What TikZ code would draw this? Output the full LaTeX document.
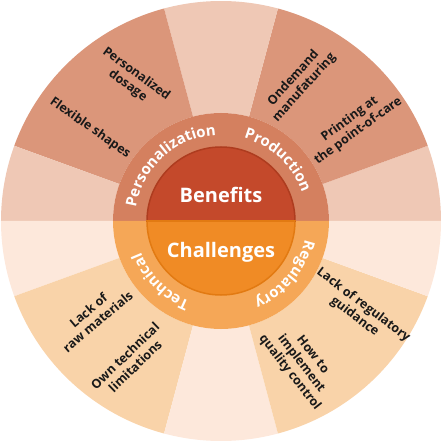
\documentclass[tikz,border=0pt]{standalone}
\usepackage{fontspec}
\setmainfont{Open Sans}
\usepackage{tikz}
\usetikzlibrary{decorations.text}

\definecolor{lighttop}{HTML}{EFC8B5}
\definecolor{wedgetop}{HTML}{DB967A}
\definecolor{ringtop}{HTML}{D4805F}
\definecolor{hubtop}{HTML}{C4492B}
\definecolor{edgetop}{HTML}{AE3C1F}
\definecolor{lightbot}{HTML}{FDE8DB}
\definecolor{wedgebot}{HTML}{F9D3A9}
\definecolor{ringbot}{HTML}{F5A757}
\definecolor{hubbot}{HTML}{F08B25}
\definecolor{edgebot}{HTML}{E27A12}

\newcommand{\ringfont}{\bfseries\fontsize{15}{17}\selectfont}

\begin{document}
\begin{tikzpicture}[
x=1pt, y=1pt,
item/.style={
font=\bfseries\fontsize{12.5}{14.5}\selectfont,
align=center,
text=black!90,
inner sep=0pt
},
hub/.style={
font=\bfseries\fontsize{20}{24}\selectfont,
text=white,
anchor=base
},
ringlabel/.style={
decorate,
decoration={text along path, text align=center, text color=white, text={|\ringfont|#1}}
}
]

\useasboundingbox (-221,-221) rectangle (221,221);

% Outer ring
\foreach \a/\b/\c in {0/20/lighttop, 20/75/wedgetop, 75/105/lighttop, 105/160/wedgetop, 160/180/lighttop,
180/200/lightbot, 200/255/wedgebot, 255/285/lightbot, 285/340/wedgebot, 340/360/lightbot}
\fill[\c] (\a:108) arc[start angle=\a, end angle=\b, radius=108] -- (\b:220)
arc[start angle=\b, end angle=\a, radius=220] -- cycle;

% Middle ring
\fill[ringtop] (108,0) arc[start angle=0, end angle=180, radius=108] -- cycle;
\fill[ringbot] (-108,0) arc[start angle=180, end angle=360, radius=108] -- cycle;

% Hub
\filldraw[hubtop, draw=edgetop, line width=1.5] (74,0) arc[start angle=0, end angle=180, radius=74] -- cycle;
\filldraw[hubbot, draw=edgebot, line width=1.5] (-74,0) arc[start angle=180, end angle=360, radius=74] -- cycle;

\node[hub] (benefits) at (0,19) {Benefits};
\node[hub] (challenges) at (0,-36) {Challenges};

% Ring labels
\path[ringlabel=Personalization] (176:86) arc[start angle=176, end angle=88, radius=86];
\path[ringlabel=Production] (91:86) arc[start angle=91, end angle=3, radius=86];
\path[ringlabel=Regulatory] (5:86) arc[start angle=5, end angle=-85, radius=86];
\path[ringlabel=Technical] (270:86) arc[start angle=270, end angle=180, radius=86];

% Benefits
\node[item, rotate=-36] (dosage) at (-89,141) {Personalized\\dosage};
\node[item, rotate=-35] (shapes) at (-131,93) {Flexible shapes};
\node[item, rotate=48] (ondemand) at (78,138) {Ondemand\\manufaturing};
\node[item, rotate=36] (pointofcare) at (133,96) {Printing at\\the point-of-care};

% Challenges
\node[item, rotate=40] (rawmat) at (-128,-95) {Lack of\\raw materials};
\node[item, rotate=44] (owntech) at (-91,-140) {Own technical\\limitations};
\node[item, rotate=-37] (guidance) at (138,-90) {Lack of regulatory\\guidance};
\node[item, rotate=-52] (quality) at (80,-143) {How to\\implement\\quality control};

\end{tikzpicture}
\end{document}
